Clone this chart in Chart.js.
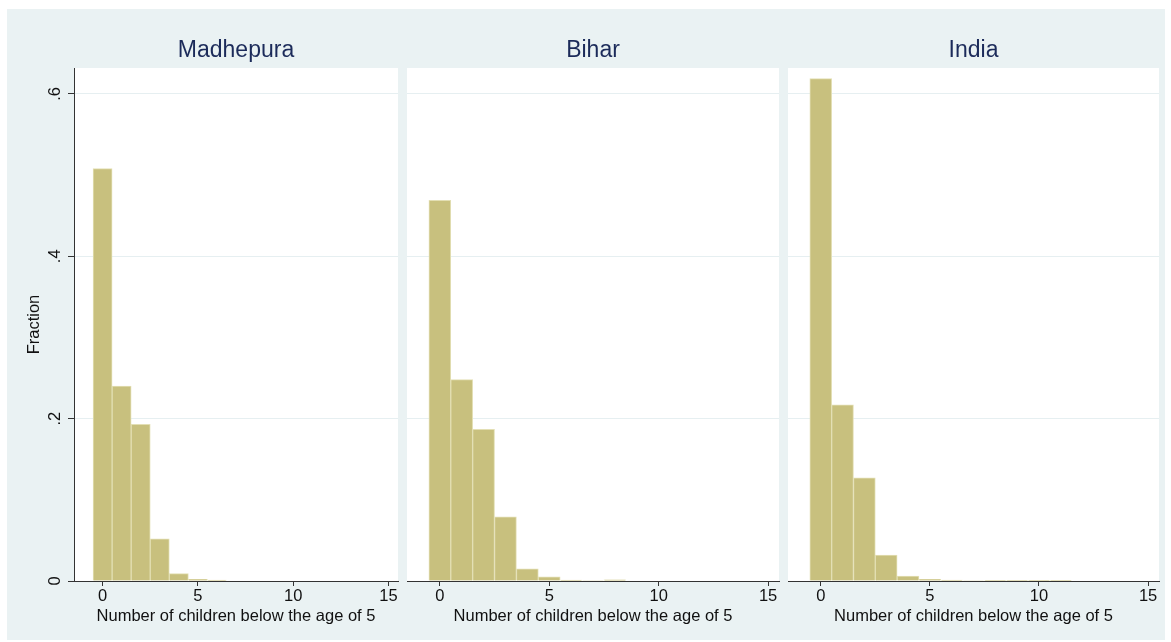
<!DOCTYPE html>
<html>
<head>
<meta charset="utf-8">
<script src="https://cdn.jsdelivr.net/npm/chart.js@4.4.1/dist/chart.umd.min.js"></script>
<style>
  body { margin: 0; background: #fff; width: 1171px; height: 642px; position: relative; overflow: hidden; }
  #bg { position: absolute; left: 7px; top: 9px; width: 1158px; height: 631px; background: #eaf2f3; }
  canvas { position: absolute; top: 9px; }
</style>
</head>
<body>
<div id="bg"></div>
<canvas id="c1" width="393" height="631" style="left:7px"></canvas>
<canvas id="c2" width="382" height="631" style="left:400px"></canvas>
<canvas id="c3" width="382" height="631" style="left:782px"></canvas>
<script>
// histogram bins (number of children below 5) and fractions per panel
const bins = [0, 1, 2, 3, 4, 5, 6, 7, 8, 9, 10, 11];
const madhepura = [0.508, 0.240, 0.193, 0.052, 0.009, 0.002, 0.001, 0, 0, 0, 0, 0];
const bihar = [0.469, 0.248, 0.187, 0.079, 0.015, 0.005, 0.001, 0.0006, 0.0015, 0, 0, 0];
const india = [0.619, 0.217, 0.127, 0.032, 0.006, 0.002, 0.001, 0.0006, 0.0005, 0.0005, 0.0004, 0.0004];
const panelNames = ['Madhepura', 'Bihar', 'India'];
const xTicks = [0, 5, 10, 15];
const yTicks = [0, 0.2, 0.4, 0.6];
const yTickLabels = ['0', '.2', '.4', '.6'];

const font = '"Liberation Sans", Arial, Helvetica, sans-serif';
const el = id => document.getElementById(id);

// white plot region over the grey-blue background
const plotBg = {
  id: 'plotBg',
  beforeDraw(c) {
    const { ctx, chartArea: a } = c;
    ctx.save();
    ctx.fillStyle = '#ffffff';
    ctx.fillRect(a.left, a.top, a.right - a.left, a.bottom - a.top);
    ctx.restore();
  }
};

function makePanel(id, name, values, first, pad) {
  return new Chart(el(id), {
    type: 'bar',
    data: {
      datasets: [{
        data: bins.map((b, i) => ({ x: b, y: values[i] })),
        backgroundColor: '#c8c07e',
        borderColor: '#e3dfb4',
        borderWidth: 1,
        barPercentage: 1,
        categoryPercentage: 1
      }]
    },
    options: {
      responsive: false,
      animation: false,
      layout: { padding: pad },
      plugins: {
        legend: { display: false },
        tooltip: { enabled: false },
        title: {
          display: true, text: name, color: '#1c2b5a', fullSize: false,
          font: { family: font, size: 23, weight: 'normal', lineHeight: 1.2 },
          padding: { top: 28.2, bottom: 3.2 }
        }
      },
      scales: {
        x: {
          type: 'linear', min: -1.5, max: 15.5, offset: false,
          afterBuildTicks: s => { s.ticks = xTicks.map(v => ({ value: v })); },
          afterFit: s => { s.height = 59; },
          grid: { drawOnChartArea: false, offset: false, tickLength: 5, tickColor: '#333' },
          border: { display: true, color: '#333', width: 1 },
          ticks: { color: '#111', padding: 1, autoSkip: false, maxRotation: 0,
                   font: { family: font, size: 16.5 } },
          title: { display: true, text: 'Number of children below the age of 5', color: '#111',
                   font: { family: font, size: 16.5 }, padding: { top: 0, bottom: 14 } }
        },
        y: {
          min: 0, max: 0.632,
          afterBuildTicks: s => { s.ticks = yTicks.map(v => ({ value: v })); },
          afterFit: s => { s.width = first ? 67 : 0; },
          grid: { color: '#e6eff1', lineWidth: 1, drawTicks: first, tickLength: 6, tickColor: '#333' },
          border: { display: first, color: '#333', width: 1 },
          ticks: { display: first, color: '#111', padding: 6, autoSkip: false,
                   minRotation: 90, maxRotation: 90, crossAlign: 'center',
                   font: { family: font, size: 16.5 },
                   callback: (v, i) => yTickLabels[i] },
          title: { display: first, text: 'Fraction', color: '#111',
                   font: { family: font, size: 16.5 }, padding: { top: 18, bottom: 0 } }
        }
      }
    },
    plugins: [plotBg]
  });
}

makePanel('c1', panelNames[0], madhepura, true, { left: 0, right: 2, top: 0, bottom: 0 });
makePanel('c2', panelNames[1], bihar, false, { left: 7, right: 3, top: 0, bottom: 0 });
makePanel('c3', panelNames[2], india, false, { left: 6, right: 5, top: 0, bottom: 0 });
</script>
</body>
</html>
